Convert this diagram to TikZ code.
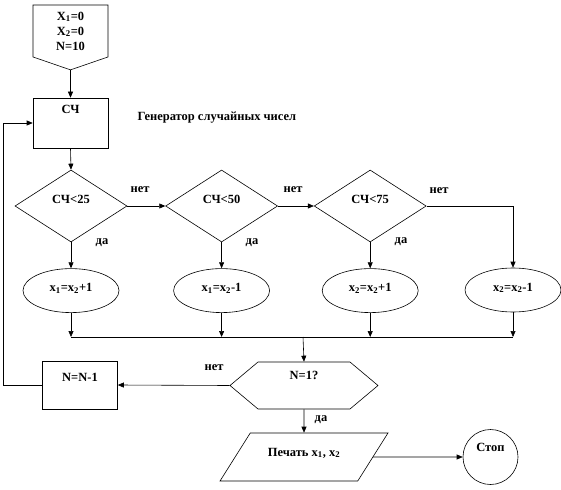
\documentclass[tikz,border=0pt]{standalone}
\usepackage{fontspec}
\setmainfont{Liberation Serif}
\usetikzlibrary{positioning,arrows.meta,shapes.geometric,shapes.symbols}

\begin{document}
\begin{tikzpicture}[
  x=1pt, y=-1pt,
  every node/.style={font=\fontsize{12.5}{15}\selectfont\bfseries},
  line/.style={draw=black, line width=0.6pt},
  arr/.style={line, -{Triangle[length=6pt,width=5pt]}},
  txtup/.style={text height=8pt, text depth=#1},
  blk/.style={rectangle, line, fill=white, minimum width=75pt, minimum height=50pt, inner sep=2pt},
  cond/.style={diamond, line, minimum width=112pt, minimum height=72pt, inner sep=0pt, txtup=14pt},
  act/.style={ellipse, line, minimum width=96pt, minimum height=44pt, inner sep=0pt, txtup=6pt},
  lbl/.style={inner sep=1pt}
]
  \useasboundingbox (0,0) rectangle (561,489);

  % start and random number generator
  \node[signal, signal to=south, signal pointer angle=142, line, minimum width=75pt,
        minimum height=58pt, align=center] (init) at (70.5,31) {X\textsubscript{1}=0\\X\textsubscript{2}=0\\N=10};
  \node[blk, txtup=26pt] (rng) at (70.5,123) {СЧ};
  \node[anchor=west] (gen) at (134,118) {Генератор случайных чисел};

  % conditions
  \node[cond] (d1) at (71,206) {СЧ<25};
  \node[cond, right=38pt of d1] (d2) {СЧ<50};
  \node[cond, right=36pt of d2] (d3) {СЧ<75};

  % actions
  \node[act, below=26pt of d1] (e1) {x\textsubscript{1}=x\textsubscript{2}+1};
  \node[act, below=26pt of d2] (e2) {x\textsubscript{1}=x\textsubscript{2}-1};
  \node[act, below=26pt of d3] (e3) {x\textsubscript{2}=x\textsubscript{2}+1};
  \node[act] (e4) at (513,290) {x\textsubscript{2}=x\textsubscript{2}-1};

  % loop check and output
  \node[signal, signal to=east and west, signal pointer angle=80, line, minimum width=148pt,
        minimum height=47pt, txtup=20pt] (chk) at (304,385.5) {N=1?};
  \node[blk, minimum height=48pt, txtup=16pt] (dec) at (80,385) {N=N-1};
  \node[trapezium, trapezium left angle=48, trapezium right angle=132, trapezium stretches=true,
        line, minimum width=168pt, minimum height=48pt, txtup=10pt] (prn) at (304,457) {Печать x\textsubscript{1}, x\textsubscript{2}};
  \node[circle, line, minimum size=55pt, inner sep=0pt, txtup=20pt] (stop) at (490.5,457) {Стоп};

  % branch labels
  \node[lbl] (n1) at (140,190) {нет};
  \node[lbl] (n2) at (293,190) {нет};
  \node[lbl] (n3) at (439,191) {нет};
  \node[lbl] (y1) at (102,243) {да};
  \node[lbl] (y2) at (252,243) {да};
  \node[lbl] (y3) at (401,242) {да};
  \node[lbl] (n4) at (214,368) {нет};
  \node[lbl] (y4) at (321,420) {да};

  \coordinate (mrg) at (303,337);

  \draw[arr] (init.south) -- (rng.north);
  \draw[arr] (rng.south) -- (d1.north);
  \draw[arr] (d1.east) -- (d2.west);
  \draw[arr] (d2.east) -- (d3.west);
  \draw[arr] (d3.east) -| (e4.north);
  \foreach \i in {1,2,3}
    \draw[arr] (d\i.south) -- (e\i.north);
  \foreach \i in {1,...,4}
    \draw[arr] (e\i.south) -- (e\i.south |- mrg);
  \draw[line] (e1.south |- mrg) -- (e4.south |- mrg);
  \draw[arr] (mrg) -- (chk.north);
  \draw[arr] (chk.west) -- (dec.east);
  \draw[arr] (dec.west) -- ++(-39,0) |- (rng.west);
  \draw[arr] (chk.south) -- (prn.north);
  \draw[arr] (prn.east) -- (stop.west);
\end{tikzpicture}
\end{document}
